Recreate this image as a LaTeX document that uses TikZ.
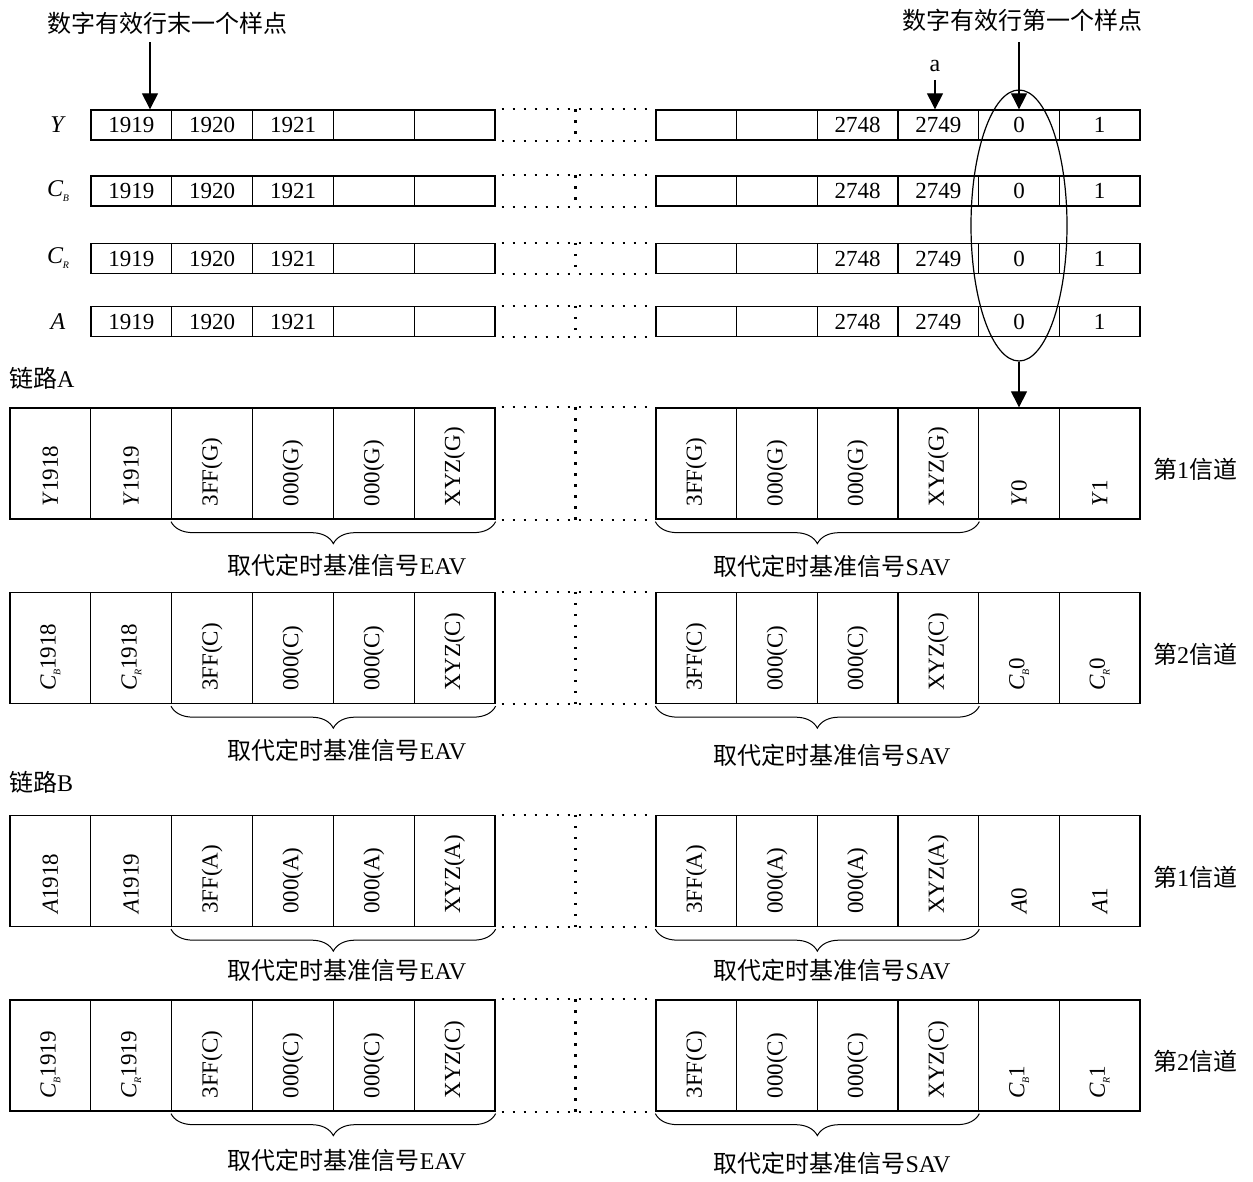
\documentclass[tikz,border=0pt]{standalone}
\usepackage{fontspec}
\setmainfont{Liberation Serif}
\newfontfamily\cjk{Noto Sans CJK SC}
\usetikzlibrary{arrows.meta,shapes.geometric,decorations.pathreplacing,calc}
\newcommand\Csub[1]{\textit{C}\kern-0.5pt\raisebox{-0.45ex}{\fontsize{10}{10}\selectfont\textit{#1}}}
\begin{document}
\begin{tikzpicture}[x=1pt,y=-1pt,
  cell/.style={draw, line width=1.3pt, inner sep=0pt, font=\fontsize{23}{26}\selectfont},
  topcell/.style={cell, minimum height=30pt},
  bigcell/.style={cell, minimum height=111pt},
  vtext/.style={rotate=90, anchor=west, inner sep=0pt, font=\fontsize{23}{26}\selectfont},
  rowlab/.style={font=\fontsize{24}{28}\selectfont},
  cjklab/.style={font=\fontsize{24}{28}\selectfont\cjk, inner sep=1pt},
  dots/.style={line width=2.2pt, dash pattern=on 2.2pt off 8.8pt},
  arr/.style={line width=1.1pt, -{Triangle[width=16pt,length=16pt]}},
  brc/.style={line width=1pt, decorate, decoration={brace,mirror,amplitude=22pt}}
]
\useasboundingbox (0,0) rectangle (1253,1182);

% ---------- top four rows ----------
\foreach \r/\yc/\lab in {Y/125/{\textit{Y}}, B/191/{\Csub{B}}, R/258.5/{\Csub{R}}, A/321.5/{\textit{A}}}{
  \node[rowlab] (\r lab) at (58,\yc) {\lab};
  \foreach \i/\t in {1/1919, 2/1920, 3/1921, 4/{}, 5/{}}{
    \node[topcell, minimum width=80.8pt] (\r L\i) at ({91+80.8*(\i-0.5)},\yc) {\t};
  }
  \foreach \i/\t in {1/{}, 2/{}, 3/2748, 4/2749, 5/0, 6/1}{
    \node[topcell, minimum width=80.67pt] (\r R\i) at ({656+80.67*(\i-0.5)},\yc) {\t};
  }
  \draw[dots] ([xshift=6pt]\r L5.north east) -- (\r R1.north west);
  \draw[dots] ([xshift=6pt]\r L5.south east) -- (\r R1.south west);
  \draw[dots] ($(\r L5.north east)!0.5!(\r R1.north west)$) -- ($(\r L5.south east)!0.5!(\r R1.south west)$);
}

% labels and arrows at the top
\node[cjklab] (lastlab) at (167.5,23) {数字有效行末一个样点};
\node[cjklab] (firstlab) at (1022,20) {数字有效行第一个样点};
\node[rowlab, inner sep=1pt] (alab) at (935,66) {a};
\draw[arr] ([xshift=18.6pt,yshift=67pt]YL1.north) -- ([xshift=18.6pt]YL1.north);
\draw[arr] ([yshift=67pt]YR5.north) -- (YR5.north);
\draw[arr] (alab.south |- 0,80) -- (alab.south |- YR4.north);
\node[draw, ellipse, line width=1.2pt, minimum width=96pt, minimum height=271pt, inner sep=0pt] (ell) at (1019,225.5) {};

% ---------- link labels ----------
\node[cjklab, anchor=west] (linkA) at (8,378) {链路{\rmfamily A}};
\node[cjklab, anchor=west] (linkB) at (8,782) {链路{\rmfamily B}};

% ---------- big rows ----------
\foreach \r/\yc/\la/\lb/\tg/\ra/\rb/\ch in {
  P/463.5/{\textit{Y}1918}/{\textit{Y}1919}/G/{\textit{Y}0}/{\textit{Y}1}/1,
  Q/648/{\Csub{B}1918}/{\Csub{R}1918}/C/{\Csub{B}0}/{\Csub{R}0}/2,
  S/871/{\textit{A}1918}/{\textit{A}1919}/A/{\textit{A}0}/{\textit{A}1}/1,
  T/1055.5/{\Csub{B}1919}/{\Csub{R}1919}/C/{\Csub{B}1}/{\Csub{R}1}/2}{
  \foreach \i/\t in {1/\la, 2/\lb, 3/3FF(\tg), 4/000(\tg), 5/000(\tg), 6/XYZ(\tg)}{
    \node[bigcell, minimum width=80.83pt] (\r L\i) at ({10+80.83*(\i-0.5)},\yc) {};
    \node[vtext] (\r Lt\i) at ([yshift=13pt]\r L\i.south) {\t};
  }
  \foreach \i/\t in {1/3FF(\tg), 2/000(\tg), 3/000(\tg), 4/XYZ(\tg), 5/\ra, 6/\rb}{
    \node[bigcell, minimum width=80.67pt] (\r R\i) at ({656+80.67*(\i-0.5)},\yc) {};
    \node[vtext] (\r Rt\i) at ([yshift=13pt]\r R\i.south) {\t};
  }
  \draw[dots] ([xshift=6pt]\r L6.north east) -- (\r R1.north west);
  \draw[dots] ([xshift=6pt]\r L6.south east) -- (\r R1.south west);
  \draw[dots] ($(\r L6.north east)!0.5!(\r R1.north west)$) -- ($(\r L6.south east)!0.5!(\r R1.south west)$);
  \node[cjklab] (\r chan) at (1195,{\yc+6}) {第{\rmfamily\ch}信道};
  \draw[brc] ([yshift=-2pt]\r L3.south west) -- ([yshift=-2pt]\r L6.south east);
  \draw[brc] ([yshift=-2pt]\r R1.south west) -- ([yshift=-2pt]\r R4.south east);
}

\draw[arr] (ell.south) -- (ell.south |- PR5.north);

% brace labels
\node[cjklab] (eavP) at (347,565) {取代定时基准信号{\rmfamily EAV}};
\node[cjklab] (savP) at (832,566) {取代定时基准信号{\rmfamily SAV}};
\node[cjklab] (eavQ) at (347,750) {取代定时基准信号{\rmfamily EAV}};
\node[cjklab] (savQ) at (832,755) {取代定时基准信号{\rmfamily SAV}};
\node[cjklab] (eavS) at (347,970) {取代定时基准信号{\rmfamily EAV}};
\node[cjklab] (savS) at (832,970) {取代定时基准信号{\rmfamily SAV}};
\node[cjklab] (eavT) at (347,1160) {取代定时基准信号{\rmfamily EAV}};
\node[cjklab] (savT) at (832,1163) {取代定时基准信号{\rmfamily SAV}};
\end{tikzpicture}
\end{document}
